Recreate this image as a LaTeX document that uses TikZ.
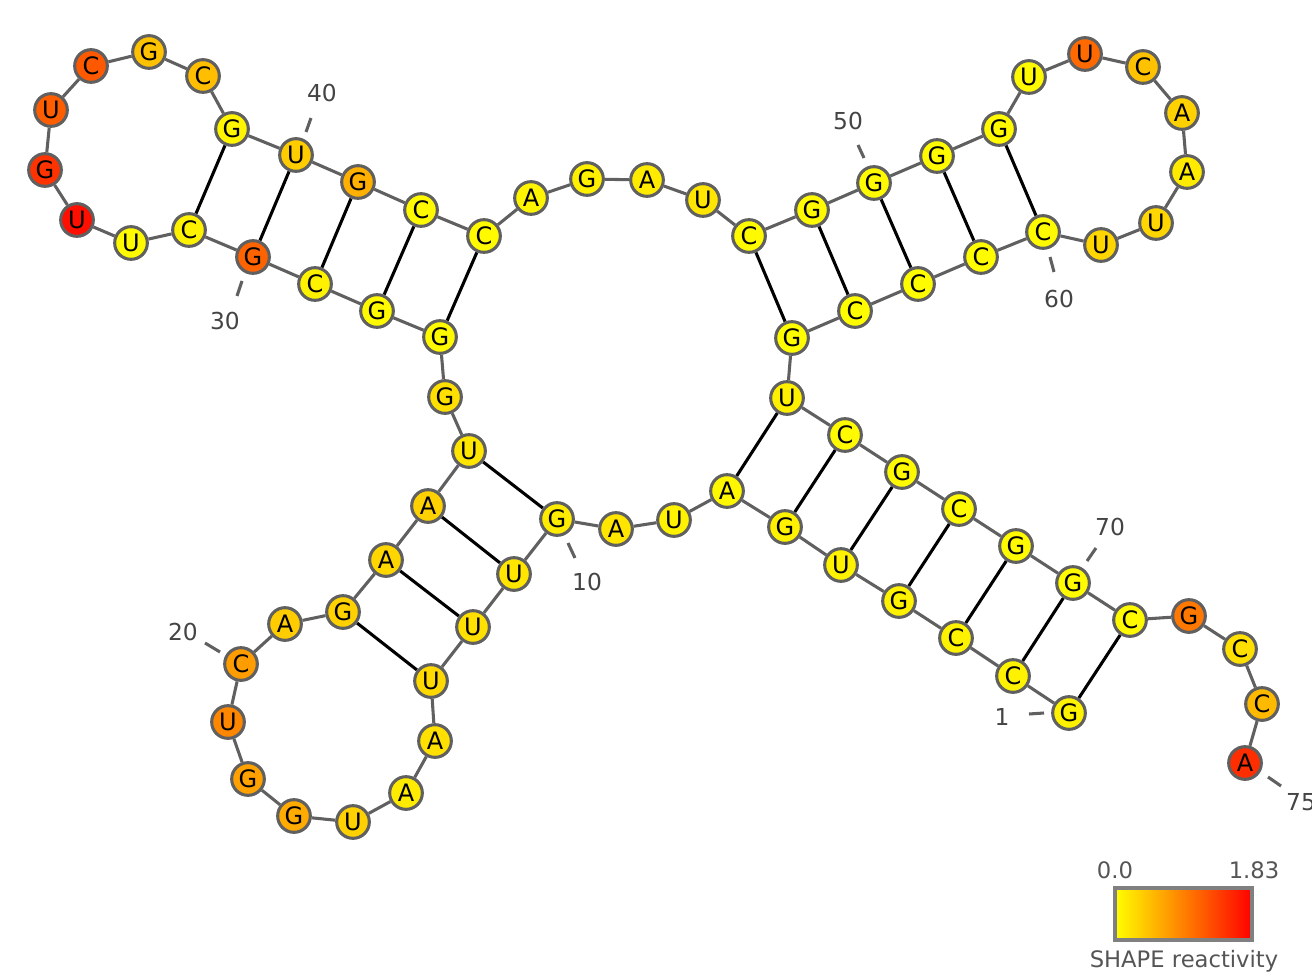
\documentclass[tikz,border=0pt]{standalone}
\usepackage{fontspec}
\setmainfont{DejaVu Sans}
\pgfdeclarelayer{background}
\pgfsetlayers{background,main}
\definecolor{bbgray}{HTML}{606060}
\definecolor{lblgray}{HTML}{444444}
\definecolor{leggray}{HTML}{555555}
\tikzset{
  nt/.style={circle, draw=bbgray, line width=2.3pt, minimum size=24.5pt, inner sep=0pt, font=\fontsize{18}{18}\selectfont, text=black},
  bb/.style={draw=bbgray, line width=2.3pt},
  bp/.style={draw=black, line width=2.3pt},
  tick/.style={draw=bbgray, line width=2.3pt},
  numlbl/.style={text=lblgray, font=\fontsize{17.5}{17.5}\selectfont, inner sep=0pt},
  leglbl/.style={text=leggray, font=\fontsize{17}{17}\selectfont, inner sep=0pt}
}
\begin{document}
\begin{tikzpicture}[x=0.75pt,y=-0.75pt]
\useasboundingbox (0,0) rectangle (1312,973);
\foreach \i/\x/\y/\l/\p in {
1/1069/713/G/0, 2/1013/676/C/0, 3/956/638/C/0, 4/899/601/G/0, 5/841/565/U/0,
6/785/527/G/0, 7/727/491/A/3, 8/674/520/U/5, 9/616/529/A/10, 10/557/519/G/8,
11/514/574/U/10, 12/473/627/U/12, 13/431/681/U/15, 14/435/741/A/12, 15/406/793/A/8,
16/353/822/U/18, 17/294/816/G/33, 18/248/779/G/37, 19/228/722/U/47, 20/241/664/C/39,
21/285/624/A/20, 22/343/612/G/18, 23/386/560/A/16, 24/428/506/A/18, 25/469/451/U/10,
26/445/397/G/12, 27/440/337/G/2, 28/377/311/G/2, 29/315/284/C/0, 30/253/257/G/61,
31/189/230/C/0, 32/131/243/U/2, 33/77/220/U/94, 34/45/170/G/80, 35/51/110/U/63,
36/91/66/C/65, 37/149/52/G/24, 38/203/76/C/25, 39/232/129/G/4, 40/296/155/U/20,
41/358/182/G/31, 42/421/210/C/2, 43/484/236/C/2, 44/531/198/A/4, 45/587/179/G/6,
46/647/180/A/8, 47/703/200/U/10, 48/749/236/C/2, 49/812/210/G/2, 50/874/183/G/2,
51/937/156/G/2, 52/999/129/G/2, 53/1029/77/U/2, 54/1085/54/U/59, 55/1143/67/C/24,
56/1182/113/A/18, 57/1187/172/A/8, 58/1156/223/U/16, 59/1101/245/U/16, 60/1043/232/C/2,
61/981/257/C/1, 62/918/284/C/1, 63/855/311/C/1, 64/792/338/G/1, 65/787/398/U/6,
66/845/435/C/2, 67/902/472/G/2, 68/959/509/C/2, 69/1016/546/G/2, 70/1073/583/G/2,
71/1130/620/C/2, 72/1189/616/G/53, 73/1240/649/C/12, 74/1262/704/C/27, 75/1245/763/A/82}
{ \node[nt, fill=red!\p!yellow] (n\i) at (\x,\y) {\l}; }
\begin{pgfonlayer}{background}
\foreach \i in {1,...,74} {
  \pgfmathtruncatemacro{\j}{\i+1}
  \draw[bb] (n\i) -- (n\j);
}
\foreach \a/\b in {1/71,2/70,3/69,4/68,5/67,6/66,7/65,10/25,11/24,12/23,13/22,27/43,28/42,29/41,30/40,31/39,48/64,49/63,50/62,51/61,52/60}
{ \draw[bp] (n\a) -- (n\b); }
\end{pgfonlayer}
% numbering ticks and labels
\foreach \k/\ax/\ay/\bx/\by/\lx/\ly in {
1/1029/714/1044/713/1002/717, 10/568/543/575/558/587/582, 20/205/643/220/652/183/632,
30/242/281/237/296/225/321, 40/311/118/306/132/322/93, 50/858/145/864/158/848/121,
60/1050/257/1054/272/1059/299, 70/1096/548/1087/561/1110/527, 75/1268/777/1281/786/1301/802}
{
  \coordinate (ta\k) at (\ax,\ay);
  \coordinate (tb\k) at (\bx,\by);
  \draw[tick] (ta\k) -- (tb\k);
  \node[numlbl] (lbl\k) at (\lx,\ly) {\k};
}
% legend
\shade[left color=yellow, right color=red] (1115,888) rectangle (1252,940);
\node[draw=gray, line width=2.3pt, minimum width=102.75pt, minimum height=39pt, inner sep=0pt] (legbox) at (1183.5,914) {};
\node[leglbl] (leg0) at (1115,870) {0.0};
\node[leglbl] (leg1) at (1254,870) {1.83};
\node[leglbl] (legt) at (1184,961) {SHAPE reactivity};
\end{tikzpicture}
\end{document}
